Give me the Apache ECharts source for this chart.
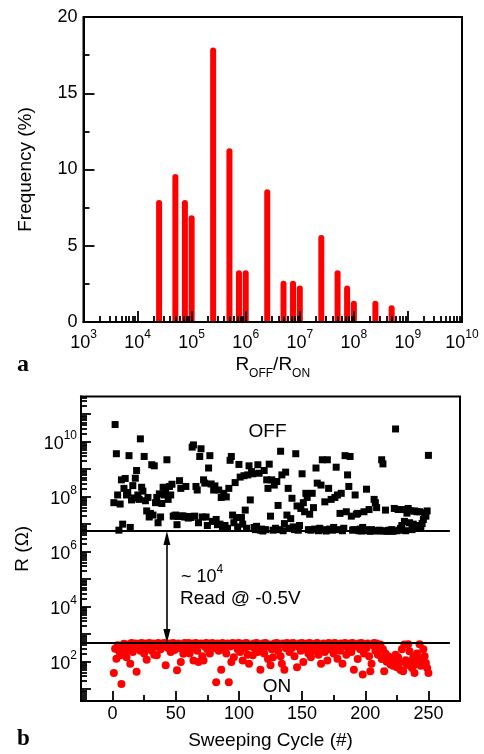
<!DOCTYPE html>
<html><head><meta charset="utf-8">
<script src="https://cdn.jsdelivr.net/npm/echarts@6/dist/echarts.min.js"></script>
<style>html,body{margin:0;padding:0;background:#fff}#c{width:484px;height:754px}</style>
</head><body><div id="c"></div>
<script>
// ---- panel a: histogram of R_OFF/R_ON ----
const ratioValues = [2.5e4, 5e4, 7.5e4, 1e5, 2.5e5, 5e5, 7.5e5, 1e6, 2.5e6, 5e6, 7.5e6, 1e7, 2.5e7, 5e7, 7.5e7, 1e8, 2.5e8, 5e8];
const frequencyPct = [8.0, 9.7, 8.0, 7.0, 18.0, 11.4, 3.4, 3.4, 8.7, 2.7, 2.7, 2.4, 5.7, 3.4, 2.4, 1.4, 1.4, 1.1];
const ratioDecadeTicks = [3, 4, 5, 6, 7, 8, 9, 10];   // exponents of 10
const frequencyTicks = [0, 5, 10, 15, 20];
const frequencyMinorTicks = [2.5, 7.5, 12.5, 17.5];

// ---- panel b: resistance vs sweeping cycle (log10 of R in ohm, cycles 1..250) ----
const offLog10R = [
7.78,10.62,9.56,8.06,6.78,7.73,8.61,7.00,8.30,8.66,
8.06,8.15,9.49,6.88,7.88,8.40,7.95,8.67,8.95,8.06,
7.90,10.10,8.34,8.20,9.46,7.85,7.48,7.97,7.26,7.39,
9.16,7.33,9.12,7.78,7.97,7.05,8.10,7.26,7.75,8.34,
8.06,8.20,9.34,7.90,8.37,8.06,8.45,7.29,7.30,7.33,
6.98,7.28,8.58,8.30,7.30,7.29,7.26,8.37,7.26,7.22,
7.28,7.24,9.80,9.88,7.29,8.37,8.24,7.05,9.46,9.74,
7.26,8.61,8.49,7.26,6.95,9.04,9.49,8.46,7.10,8.24,
8.39,7.17,6.98,8.24,7.00,7.97,6.90,8.12,6.95,7.99,
6.85,8.30,9.32,9.46,7.33,7.05,8.51,7.24,6.90,9.17,
8.71,7.24,7.00,8.76,7.51,6.85,8.79,9.12,7.88,8.91,
8.83,6.88,6.80,6.92,9.16,8.85,6.78,6.82,6.75,8.95,
6.80,8.61,8.30,9.18,7.29,8.61,6.78,8.42,6.85,8.55,
7.68,6.80,9.65,8.79,6.76,7.02,8.89,7.33,8.30,6.85,
7.20,7.94,6.90,6.80,9.56,7.66,6.78,6.95,7.57,8.83,
7.78,7.45,8.12,7.97,6.80,7.36,6.78,8.12,7.60,6.82,
9.04,8.49,6.76,6.85,8.42,9.34,6.80,7.81,6.75,9.34,
8.30,6.82,7.90,6.78,6.88,7.97,9.07,8.06,6.80,7.39,
8.12,6.76,6.85,9.49,7.45,8.79,8.37,9.46,7.29,6.78,
6.80,8.06,7.36,7.39,6.76,6.82,6.75,6.88,7.45,6.80,
8.27,6.76,7.53,6.74,6.80,6.76,7.90,7.78,7.60,6.75,
6.78,6.76,9.34,9.19,6.75,7.51,6.74,6.76,6.78,6.75,
6.80,6.74,7.57,10.46,6.76,7.53,6.78,6.85,6.95,7.53,
7.10,6.76,7.40,7.57,7.05,7.48,6.80,7.00,7.48,6.84,
7.45,6.95,7.45,6.90,7.02,7.17,7.41,7.29,7.48,9.50
];
const onLog10R = [
1.59,2.47,2.11,2.60,2.40,2.23,1.19,2.55,2.65,2.30,
2.16,2.62,2.45,1.92,2.68,2.35,2.55,2.66,1.63,2.50,
2.65,2.40,2.68,2.58,2.30,2.66,2.07,2.50,2.68,2.60,
2.40,2.66,2.25,2.55,2.23,2.68,2.62,2.45,2.66,2.55,
2.68,1.87,2.60,2.50,2.66,2.35,2.55,2.68,2.42,2.62,
1.69,2.66,2.50,1.99,2.60,2.29,2.68,2.45,2.62,2.68,
2.30,2.55,2.66,2.04,2.50,2.68,2.40,1.99,2.62,2.66,
2.20,2.04,2.55,2.68,2.45,2.66,2.30,2.60,2.68,2.50,
2.62,1.25,2.66,2.40,2.55,1.71,2.68,2.45,2.62,2.30,
2.66,1.25,2.55,1.99,2.68,2.16,2.60,2.66,2.45,2.68,
2.35,2.60,2.04,2.66,2.50,2.68,2.25,1.92,2.62,2.55,
2.23,2.66,2.45,2.68,2.35,2.60,1.71,2.50,2.66,2.30,
2.68,2.55,2.10,2.62,1.87,2.45,2.16,2.66,2.55,2.68,
2.40,2.62,2.20,1.92,2.66,1.71,2.50,2.68,2.60,2.35,
2.66,2.50,2.68,2.20,2.62,1.80,2.55,2.66,2.40,2.68,
1.99,2.60,2.45,2.66,2.30,2.68,2.16,2.55,2.62,2.40,
2.66,2.68,2.25,2.50,1.92,2.62,2.66,2.35,2.55,2.04,
2.68,2.45,2.60,2.66,2.30,2.68,2.50,2.11,2.62,2.40,
2.66,1.92,2.55,2.68,2.25,2.60,2.45,2.66,2.35,2.68,
1.71,2.55,2.62,2.10,2.66,2.45,2.68,1.53,2.30,2.62,
2.50,2.66,2.20,1.65,1.92,2.60,2.68,2.40,2.66,2.25,
2.55,2.62,2.10,2.45,1.65,2.30,2.00,2.20,2.04,1.90,
2.15,1.85,2.05,2.25,1.80,2.16,1.95,1.70,2.45,1.65,
2.62,2.05,1.88,2.63,2.38,2.00,1.77,2.15,1.59,1.90,
2.30,2.10,2.63,1.85,2.04,2.45,2.20,1.95,1.77,1.59
];
const cycleTicks = [0, 50, 100, 150, 200, 250];
const cycleMinorTicks = [25, 75, 125, 175, 225];
const resistanceLabelExp = [2, 4, 6, 8, 10];
const resistanceDecadeExp = [1, 2, 3, 4, 5, 6, 7, 8, 9, 10, 11];
const offLevelLog10R = 6.75;
const onLevelLog10R = 2.68;
const arrowCycle = 43;

const FONT = 'Liberation Sans, Arial, sans-serif';
const axisLineStyle = {color: '#000', width: 2};
const tickStyle = {color: '#000', width: 1.8};
const supRich = {
  b: {fontSize: 18, fontFamily: FONT, color: '#000', padding: [5, 0, 0, 0], verticalAlign: 'bottom'},
  s: {fontSize: 12, fontFamily: FONT, color: '#000', verticalAlign: 'top'}
};
const powLabel = v => '{b|10}{s|' + Math.round(v) + '}';

function minorLogs(lo, hi) {
  const out = [];
  for (let n = Math.floor(lo); n <= Math.ceil(hi); n++)
    for (let k = 2; k <= 9; k++) {
      const v = n + Math.log10(k);
      if (v > lo && v < hi) out.push(v);
    }
  return out;
}
// axis that draws the line, labels and name
function labelAxis(o) {
  return Object.assign({type: 'value', offset: 0, z: 10, splitLine: {show: false}, splitArea: {show: false},
    axisLine: {show: true, onZero: false, lineStyle: axisLineStyle},
    axisTick: {show: false}}, o);
}
// axis that only draws inward ticks at the given values
function tickAxis(o, values, len) {
  return Object.assign({type: 'value', offset: 0, z: 10, splitLine: {show: false}, splitArea: {show: false},
    axisLine: {show: false, onZero: false},
    axisLabel: {show: false},
    axisTick: {show: true, inside: true, length: len, lineStyle: tickStyle, customValues: values}}, o);
}

const chart = echarts.init(document.getElementById('c'), null, {renderer: 'canvas'});
const yMinB = 0.57, yMaxB = 11.64;

chart.setOption({
  animation: false,
  backgroundColor: '#fff',
  textStyle: {fontFamily: FONT},
  grid: [
    {left: 83.5, top: 17, width: 378.5, height: 305, show: true, borderColor: '#000', borderWidth: 2, backgroundColor: 'transparent'},
    {left: 81, top: 396.5, width: 379, height: 304.5, show: true, borderColor: '#000', borderWidth: 2, backgroundColor: 'transparent'}
  ],
  xAxis: [
    labelAxis({gridIndex: 0, position: 'bottom', min: 3, max: 10,
     axisLabel: {show: true, customValues: ratioDecadeTicks, formatter: powLabel, rich: supRich, margin: 7},
     name: '{n|R}{sub|OFF}{n|/R}{sub|ON}', nameLocation: 'middle', nameGap: 33,
     nameTextStyle: {rich: {
       n: {fontSize: 19, fontFamily: FONT, color: '#000', padding: [0, 0, 6, 0], verticalAlign: 'bottom'},
       sub: {fontSize: 12, fontFamily: FONT, color: '#000', verticalAlign: 'bottom'}}}}),
    tickAxis({gridIndex: 0, position: 'bottom', min: 3, max: 10}, ratioDecadeTicks, 11),
    tickAxis({gridIndex: 0, position: 'bottom', min: 3, max: 10}, minorLogs(3, 10), 6),
    labelAxis({gridIndex: 1, position: 'bottom', min: -25, max: 275,
     axisLabel: {show: true, customValues: cycleTicks, fontSize: 18, color: '#000', margin: 4},
     name: 'Sweeping Cycle (#)', nameLocation: 'middle', nameGap: 30,
     nameTextStyle: {fontSize: 19, color: '#000'}}),
    tickAxis({gridIndex: 1, position: 'bottom', min: -25, max: 275}, cycleTicks, 10),
    tickAxis({gridIndex: 1, position: 'bottom', min: -25, max: 275}, cycleMinorTicks, 6)
  ],
  yAxis: [
    labelAxis({gridIndex: 0, position: 'left', min: 0, max: 20,
     axisLabel: {show: true, fontSize: 18, color: '#000', margin: 6, customValues: frequencyTicks},
     name: 'Frequency (%)', nameLocation: 'middle', nameGap: 48,
     nameTextStyle: {fontSize: 19, color: '#000'}}),
    tickAxis({gridIndex: 0, position: 'left', min: 0, max: 20}, frequencyTicks, 11),
    tickAxis({gridIndex: 0, position: 'left', min: 0, max: 20}, frequencyMinorTicks, 6),
    labelAxis({gridIndex: 1, position: 'left', min: yMinB, max: yMaxB,
     axisLabel: {show: true, customValues: resistanceLabelExp, formatter: powLabel, rich: supRich, margin: 4},
     name: 'R (Ω)', nameLocation: 'middle', nameGap: 49,
     nameTextStyle: {fontSize: 19, color: '#000'}}),
    tickAxis({gridIndex: 1, position: 'left', min: yMinB, max: yMaxB}, resistanceDecadeExp, 10),
    tickAxis({gridIndex: 1, position: 'left', min: yMinB, max: yMaxB}, minorLogs(yMinB, yMaxB), 6)
  ],
  series: [
    {type: 'custom', xAxisIndex: 0, yAxisIndex: 0, z: 1,
     data: ratioValues.map((r, i) => [Math.log10(r), frequencyPct[i]]),
     renderItem: function (params, api) {
       const top = api.coord([api.value(0), api.value(1)]);
       const base = api.coord([api.value(0), 0]);
       const w = 6;
       return {type: 'rect', shape: {x: top[0] - w / 2, y: top[1], width: w, height: base[1] - top[1], r: [3, 3, 0, 0]},
               style: {fill: '#ff0000'}};
     }},
    {type: 'scatter', xAxisIndex: 3, yAxisIndex: 3, symbol: 'rect', symbolSize: 7,
     itemStyle: {color: '#000', opacity: 1}, z: 2,
     data: offLog10R.map((v, i) => [i + 1, v])},
    {type: 'scatter', xAxisIndex: 3, yAxisIndex: 3, symbol: 'circle', symbolSize: 8,
     itemStyle: {color: '#ff0000', opacity: 1}, z: 2,
     data: onLog10R.map((v, i) => [i + 1, v])},
    {type: 'line', xAxisIndex: 3, yAxisIndex: 3, symbol: 'none', z: 4,
     lineStyle: {color: '#000', width: 2},
     data: [[-25, offLevelLog10R], [267, offLevelLog10R]]},
    {type: 'line', xAxisIndex: 3, yAxisIndex: 3, symbol: 'none', z: 4,
     lineStyle: {color: '#000', width: 2},
     data: [[-25, onLevelLog10R], [267, onLevelLog10R]]},
    {type: 'line', xAxisIndex: 3, yAxisIndex: 3, symbol: 'none', z: 4, data: [],
     markLine: {silent: true, symbol: ['triangle', 'triangle'], symbolSize: [7, 14],
       label: {show: false}, lineStyle: {color: '#000', width: 1.6, type: 'solid'},
       data: [[{coord: [arrowCycle, offLevelLog10R - 0.25]}, {coord: [arrowCycle, onLevelLog10R + 0.25]}]]}}
  ],
  graphic: [
    {type: 'text', x: 17, y: 365, style: {text: 'a', font: 'bold 24px "Liberation Serif", serif', fill: '#000', verticalAlign: 'middle'}},
    {type: 'text', x: 17, y: 739, style: {text: 'b', font: 'bold 23px "Liberation Serif", serif', fill: '#000', verticalAlign: 'middle'}},
    {type: 'text', x: 267.5, y: 431.5, style: {text: 'OFF', font: '19px ' + FONT, fill: '#000', align: 'center', verticalAlign: 'middle'}},
    {type: 'text', x: 277, y: 686.5, style: {text: 'ON', font: '19px ' + FONT, fill: '#000', align: 'center', verticalAlign: 'middle'}},
    {type: 'text', x: 181, y: 575, style: {text: '{b|~ 10}{s|4}', fill: '#000', verticalAlign: 'middle', rich: supRich}},
    {type: 'text', x: 180, y: 598.5, style: {text: 'Read @ -0.5V', font: '19px ' + FONT, fill: '#000', verticalAlign: 'middle'}}
  ]
});
</script></body></html>
